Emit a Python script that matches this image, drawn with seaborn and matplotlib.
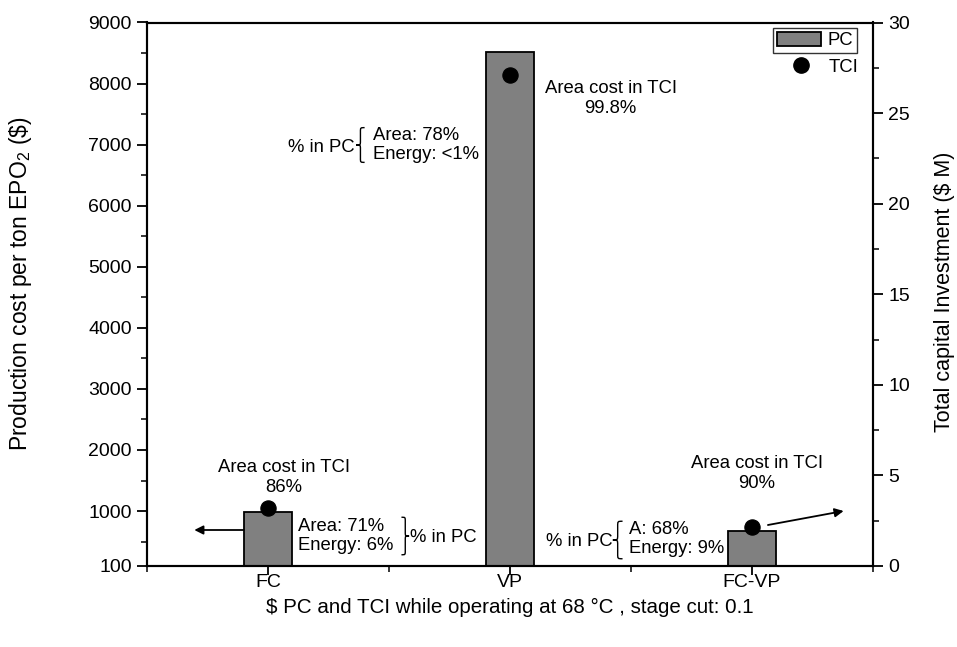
import numpy as np
import pandas as pd
import seaborn as sns
import matplotlib.pyplot as plt
import matplotlib.transforms as mtransforms
from matplotlib.path import Path
from matplotlib.patches import Patch, PathPatch
from matplotlib.lines import Line2D
from matplotlib.ticker import MultipleLocator, FixedLocator

# data
categories = ['FC', 'VP', 'FC-VP']
pc = [980, 8510, 670]          # production cost per ton EPO2 ($)
tci = [3.18, 27.08, 2.17]      # total capital investment ($ M)

df = pd.DataFrame({'Process': categories, 'PC': pc, 'TCI': tci})

sns.set_theme(style='ticks')
plt.rcParams['font.family'] = ['Liberation Sans', 'DejaVu Sans']
plt.rcParams['mathtext.fontset'] = 'custom'
plt.rcParams['mathtext.rm'] = 'Liberation Sans'
plt.rcParams['mathtext.it'] = 'Liberation Sans:italic'
plt.rcParams['axes.labelcolor'] = 'black'
plt.rcParams['text.color'] = 'black'

fig = plt.figure(figsize=(9.57, 6.47), dpi=100)
ax = fig.add_axes([147 / 957, 1 - 566 / 647, (873 - 147) / 957, (566 - 22.5) / 647])

# bars -> left axis
sns.barplot(data=df, x='Process', y='PC', color='#808080', saturation=1,
            width=0.2, edgecolor='black', linewidth=1.3, ax=ax)
ax.set_ylim(100, 9000)
ax.set_xlim(-0.5, 2.5)
ax.yaxis.set_major_locator(FixedLocator([100] + list(range(1000, 9001, 1000))))
ax.yaxis.set_minor_locator(FixedLocator(list(range(500, 9000, 1000))))
ax.xaxis.set_minor_locator(FixedLocator([-0.5, 0.5, 1.5, 2.5]))
ax.set_ylabel(r'Production cost per ton EPO$_2$ (\$)', fontsize=16.5)
ax.yaxis.set_label_coords((34 - 147) / 726, 0.52)
ax.set_xlabel(r'\$ PC and TCI while operating at 68 °C , stage cut: 0.1', fontsize=14.8)
ax.xaxis.set_label_coords(0.5, -0.058)
ax.xaxis.label.set_verticalalignment('top')

# dots -> right axis
ax2 = ax.twinx()
sns.scatterplot(x=np.arange(len(categories)), y=df['TCI'], color='black', s=120,
                edgecolor='black', zorder=5, ax=ax2, legend=False)
ax2.set_ylim(0, 30)
ax2.yaxis.set_major_locator(MultipleLocator(5))
ax2.yaxis.set_minor_locator(MultipleLocator(2.5))
ax2.set_ylabel('Total capital Investment ($ M)', fontsize=15.5)
ax2.yaxis.set_label_coords((934 - 147) / 726, 0.505)
ax2.set_xlim(-0.5, 2.5)

for a in (ax, ax2):
    for s in a.spines.values():
        s.set_linewidth(1.5)
        s.set_color('black')
    a.tick_params(which='major', direction='out', length=7, width=1.3,
                  labelsize=14, colors='black', pad=4)
    a.tick_params(which='minor', direction='out', length=4.5, width=1.3)
ax.tick_params(axis='x', which='both', top=False)
ax.tick_params(axis='x', which='major', pad=-1, length=6.5)


def brace(x, y, h, w):
    # curly brace centred on (x, y) in ax2 data units; h, w in points,
    # w > 0 opens to the left '}', w < 0 gives '{'
    r = abs(w) / 2.0
    verts = [(0, h / 2), (w / 2, h / 2), (w / 2, h / 2), (w / 2, h / 2 - r),
             (w / 2, r), (w / 2, 0), (w / 2, 0), (w, 0),
             (w / 2, 0), (w / 2, 0), (w / 2, -r),
             (w / 2, -h / 2 + r), (w / 2, -h / 2), (w / 2, -h / 2), (0, -h / 2)]
    codes = [Path.MOVETO, Path.CURVE4, Path.CURVE4, Path.CURVE4,
             Path.LINETO, Path.CURVE4, Path.CURVE4, Path.CURVE4,
             Path.CURVE4, Path.CURVE4, Path.CURVE4,
             Path.LINETO, Path.CURVE4, Path.CURVE4, Path.CURVE4]
    tr = mtransforms.Affine2D().scale(fig.dpi / 72.0) + \
        mtransforms.ScaledTranslation(x, y, ax2.transData)
    ax2.add_artist(PathPatch(Path(verts, codes), transform=tr, fill=False,
                             edgecolor='black', lw=1.0, clip_on=False))


def px(xp):
    return (xp - 268) / 243.0


def py(yp):
    return (566 - yp) / (543.5 / 30)


txt = dict(fontsize=13.3, color='black', linespacing=1.2)

# FC annotations
ax2.text(px(284), py(459), 'Area cost in TCI\n86%', ha='center', va='top',
         multialignment='center', **txt)
ax2.text(px(298), py(536), 'Area: 71%\nEnergy: 6%', ha='left', va='center', **txt)
brace(px(402), py(536), 27, 5.5)
ax2.text(px(411), py(537), '% in PC', ha='left', va='center', **txt)
ax2.annotate('', xy=(px(194), py(530)), xytext=(-0.1, py(530)),
             arrowprops=dict(arrowstyle='-|>', color='black', lw=1.3,
                             mutation_scale=13, shrinkA=0, shrinkB=0))

# VP annotations
ax2.text(px(612), py(80), 'Area cost in TCI\n99.8%', ha='center', va='top',
         multialignment='center', **txt)
ax2.text(px(355), py(147), '% in PC', ha='right', va='center', **txt)
brace(px(365), py(145), 25, -6)
ax2.text(px(373), py(145), 'Area: 78%\nEnergy: <1%', ha='left', va='center', **txt)

# FC-VP annotations
ax2.text(px(759), py(455), 'Area cost in TCI\n90%', ha='center', va='top',
         multialignment='center', **txt)
ax2.text(px(547), py(541), '% in PC', ha='left', va='center', **txt)
brace(px(624), py(540), 27, -7)
ax2.text(px(630), py(539), 'A: 68%\nEnergy: 9%', ha='left', va='center', **txt)
ax2.annotate('', xy=(px(846), py(511)), xytext=(px(770), py(525)),
             arrowprops=dict(arrowstyle='-|>', color='black', lw=1.3,
                             mutation_scale=13, shrinkA=0, shrinkB=0))

# legends: framed PC entry, unframed TCI entry below
leg1 = ax2.legend(handles=[Patch(facecolor='#808080', edgecolor='black', linewidth=1.3)],
                  labels=['PC'], loc='upper right',
                  bbox_to_anchor=((857 - 147) / 726, 1 - (28 - 22.5) / 543.5),
                  frameon=True, fancybox=False, fontsize=13.3, handlelength=2.4,
                  handleheight=0.8, borderpad=0.2, handletextpad=0.35,
                  borderaxespad=0)
leg1.get_frame().set_edgecolor('black')
leg1.get_frame().set_linewidth(1.0)
ax2.add_artist(leg1)
ax2.legend(handles=[Line2D([], [], marker='o', ls='none', color='black', markersize=11)],
           labels=['TCI'], loc='center right',
           bbox_to_anchor=((858 - 147) / 726, 1 - (67 - 22.5) / 543.5),
           frameon=False, fontsize=13.3, handletextpad=0.45, borderaxespad=0,
           borderpad=0)

fig.savefig('out.png', dpi=100)
